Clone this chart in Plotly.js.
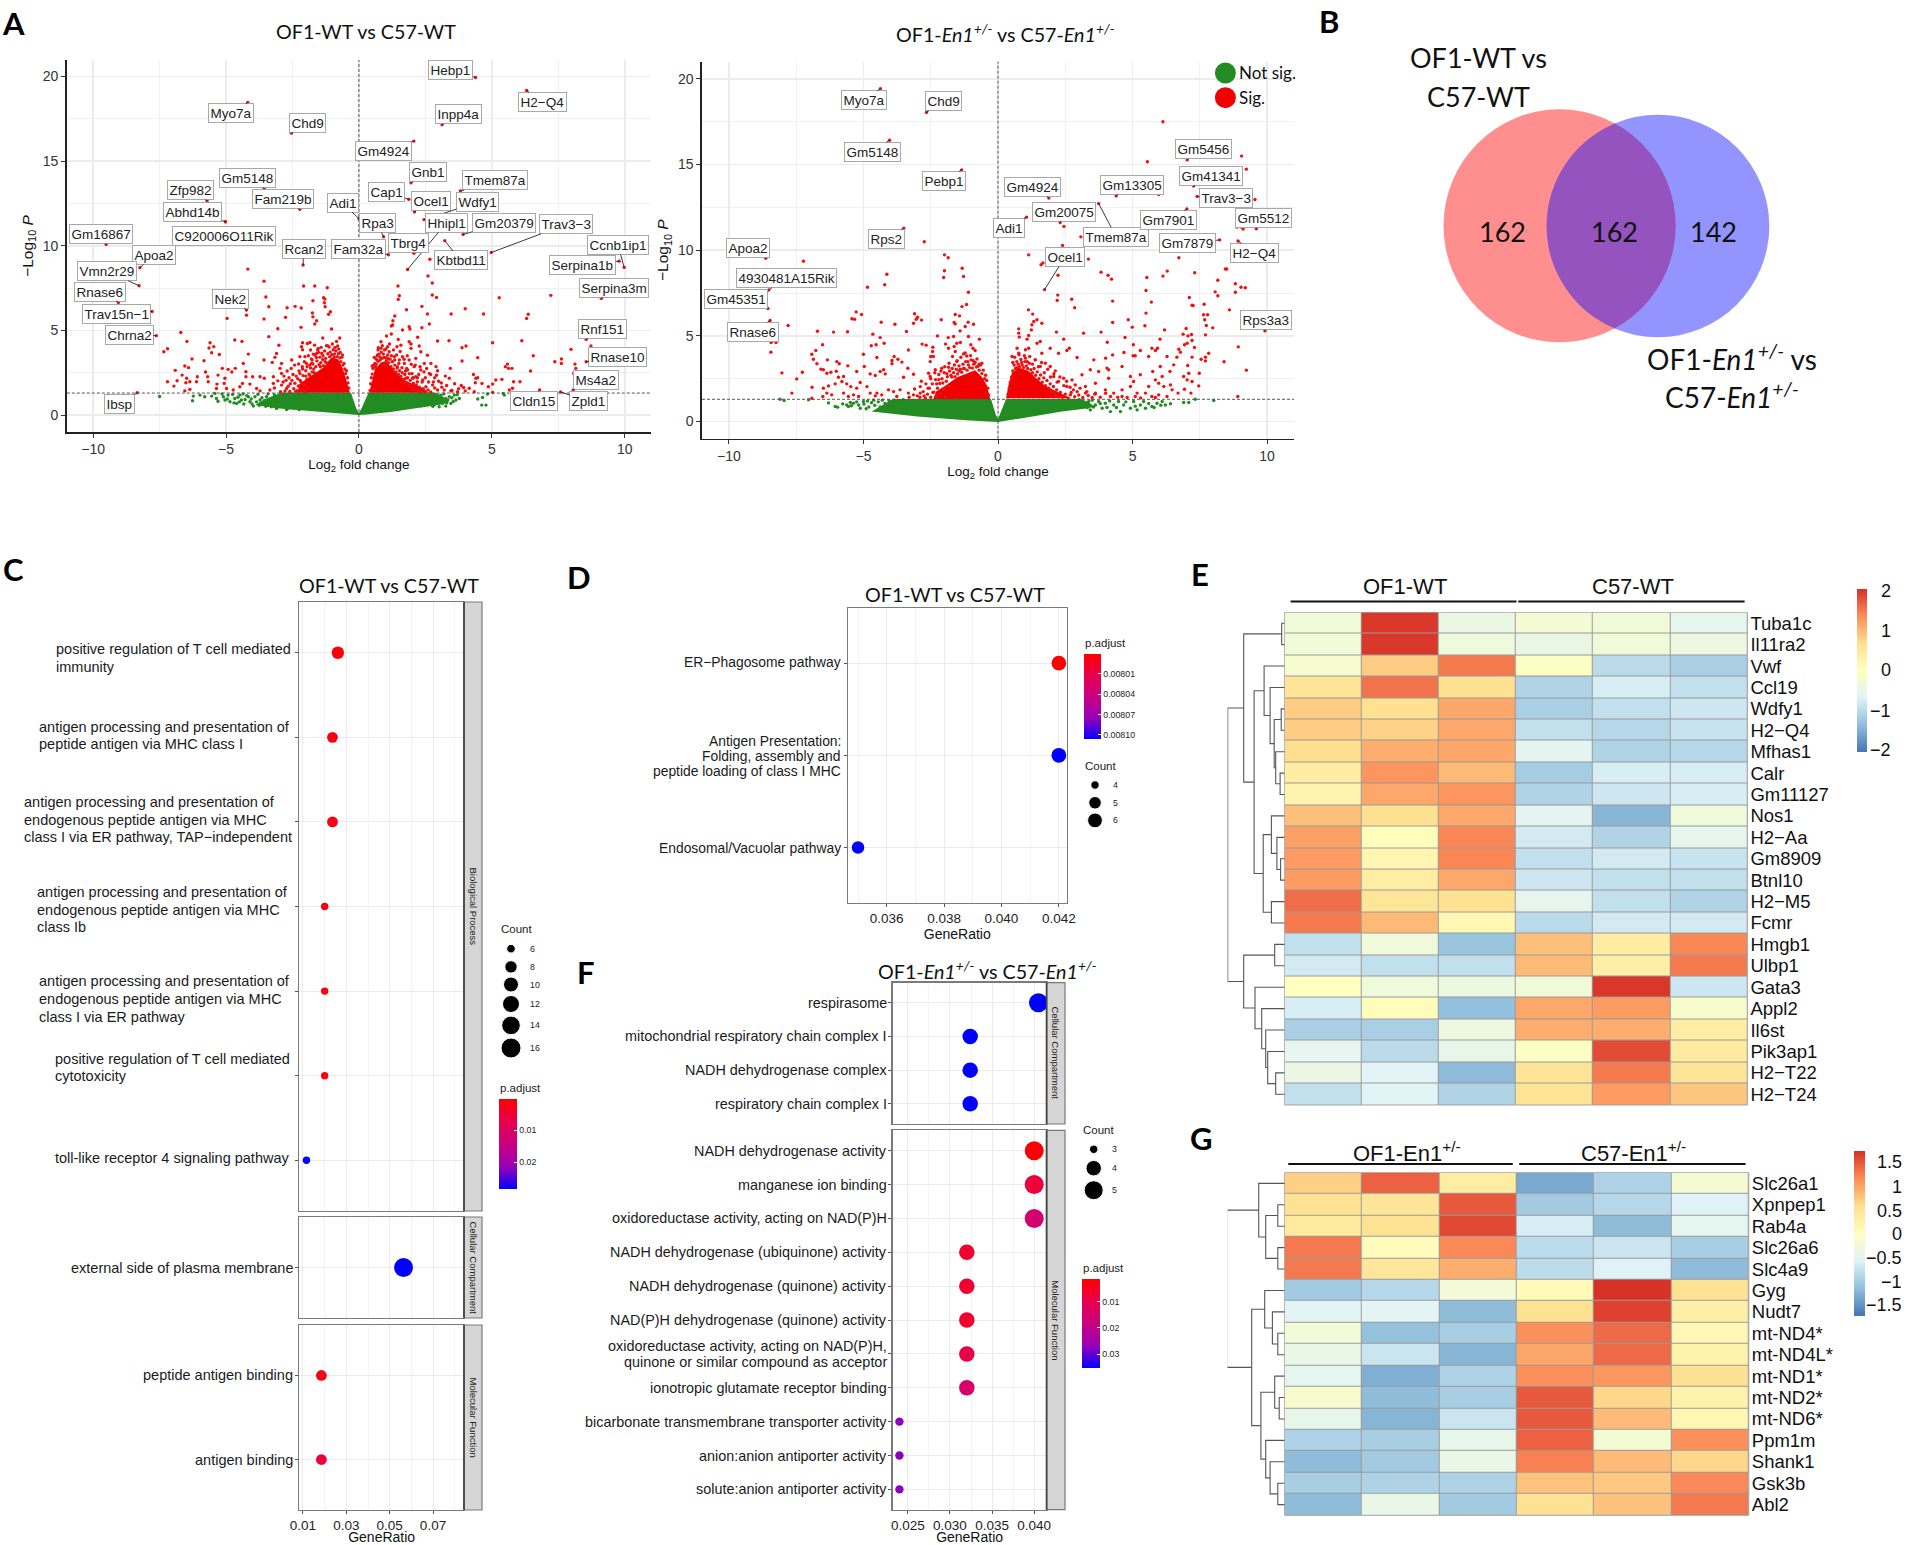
<!DOCTYPE html>
<html><head><meta charset="utf-8">
<script src="https://cdn.plot.ly/plotly-3.0.1.min.js"></script>
<style>html,body{margin:0;padding:0;background:#fff}</style></head>
<body><div id="chart" style="width:1907px;height:1545px"></div>
<script>
/* ===== DATA ===== */
// Panel A, left volcano: labelled genes
const genesA=['Hebp1','H2−Q4','Myo7a','Inpp4a','Chd9','Gm4924','Gnb1','Gm5148','Tmem87a','Cap1','Zfp982','Ocel1','Fam219b','Wdfy1','Adi1','Abhd14b','Rpa3','Kbtbd11','Hhipl1','Tbrg4','Gm20379','Trav3−3','Fam32a','Gm16867','C920006O11Rik','Apoa2','Vmn2r29','Rcan2','Ccnb1ip1','Serpina1b','Serpina3m','Rnase6','Trav15n−1','Nek2','Chrna2','Rnf151','Rnase10','Ms4a2','Zpld1','Cldn15','Ibsp'];
const genesAx=[4.39,6.31,-4.18,3.13,-2.54,2.07,1.96,-3.56,3.82,1.88,-5.71,2.09,-2.22,2.45,0,-5.02,0.93,3.23,1.83,2.07,3.92,4.98,1.11,-9.51,-5.02,-8.24,-8.27,-2.1,9.98,9.79,9.12,-9.05,-7.78,-4.23,-7.62,8.55,8.55,8.06,7.59,6.8,-8.34];
const genesAy=[19.94,19.17,18.46,17.15,16.65,16.18,13.72,13.37,13.23,12.74,12.64,12,12.15,11.54,11.6,11.42,10.53,10.3,8.6,9.55,10.67,9.6,9.47,10.08,11.42,8.7,7.64,8.86,8.72,9.09,6.89,6.65,6.12,6.2,4.69,4.47,3.15,1.48,1.36,1.48,1.32];
const sigA=[[-4.18,8.62],[-3.57,7.91],[-2.08,7.62],[-1.66,7.62],[-1.19,7.52],[-1.33,6.93],[-1.28,6.85],[-1.3,6.63],[-1.27,6.4],[-3.5,6.97],[-3.39,6.4],[-2.7,6.34],[-2.4,6.42],[-2.17,6.32],[-1.73,6.75],[-1.07,6.1],[-1.14,5.95],[-1.75,6.03],[-1.73,5.8],[-1.59,5.57],[-1.66,5.38],[-4.23,5.9],[-4.96,5.71],[-3.57,5.67],[-2.76,5.77],[-2.18,5.18],[-3.05,5.1],[-1.03,5.08],[-3.39,4.63],[-6.7,4.88],[-4.67,4.43],[-4.4,4.35],[-6.47,4.35],[-7.2,3.92],[-7.34,3.74],[-5.6,4.27],[-5.46,4.04],[-5.64,3.96],[-5.54,3.68],[-5.25,3.58],[-1.36,4.55],[-0.72,4.55],[-0.84,4.35],[-0.8,4.08],[-1.18,4.1],[-1.84,4.29],[-1.94,4.23],[-2.12,4.27],[-2.16,4.04],[-2.12,3.86],[-1.67,4.13],[-1.53,3.94],[-1.82,3.84],[-1.59,3.64],[-3.01,4.12],[-4.16,3.6],[-3.1,3.64],[-3.16,3.41],[-6.28,3.31],[-5.83,3.21],[-6.55,2.9],[-6.41,2.8],[-6.91,2.64],[-4.35,3.05],[-3.57,3.25],[-3.26,3.11],[-2.91,3.05],[-2.97,2.76],[-2.53,3.25],[-2.22,3.45],[-2.03,3.45],[-1.76,3.25],[-5.14,2.76],[-4.92,2.7],[-4.78,2.54],[-4.65,2.76],[-4.25,2.56],[-5.77,2.54],[-5.69,2.26],[-6.65,2.36],[-6.48,2.17],[-6.36,1.97],[-6.51,1.91],[-6.08,2.26],[-6.11,1.97],[-7.2,1.97],[-6.84,2.03],[-6.96,1.71],[-5.67,1.97],[-5.3,2.36],[-5.34,1.83],[-5.04,2.17],[-5.07,1.87],[-4.98,1.57],[-4.25,2.26],[-4,2.26],[-3.72,2.26],[-3.56,2.17],[-3.22,2.26],[-2.91,2.46],[-4.38,1.87],[-4.48,1.67],[-4.1,1.83],[-3.85,1.57],[-3.72,1.43],[-3.22,1.87],[-2.91,1.77],[-2.72,1.57],[-6.55,1.43],[-6.36,1.52],[-5.36,1.57],[-4.73,1.48],[-3.35,1.48],
[2.67,9.2],[2.6,8.21],[2.76,7.8],[1.47,7.62],[1.52,7.05],[1.48,6.83],[2.76,7.09],[2.92,6.95],[5.28,6.93],[7.22,7.07],[2.37,6.42],[1.79,6.22],[4,6.28],[3.47,5.97],[4.69,5.97],[2.58,5.97],[1.35,5.85],[1.28,5.57],[1.27,5.32],[1.22,5.26],[1.89,5.22],[1.92,5.08],[1.64,5.02],[2.37,5.16],[2.65,5.38],[6.37,5.95],[6.31,5.71],[1.22,4.79],[1.04,4.67],[1.48,4.47],[2.21,4.6],[1.89,4.33],[1.96,4.2],[2.96,4.37],[3.39,4.39],[5.03,4.27],[6.13,4.39],[4.03,4.08],[3.88,3.98],[0.83,4.33],[0.73,3.98],[1.43,4.04],[1.58,4.13],[1.96,3.94],[2.27,4.08],[2.33,3.74],[2.58,3.54],[2.71,3.05],[2.9,2.86],[4.47,3.39],[3.88,3.19],[6.56,3.5],[5.59,3.01],[5.51,2.86],[5.63,2.76],[5.76,2.76],[7.37,3.15],[7.62,3.31],[7.62,3.05],[7.98,3.88],[8.13,3.01],[8.16,2.76],[8.08,2.46],[8.73,4.08],[6.46,2.6],[2.96,2.62],[3.44,2.76],[3.4,2.17],[4.31,2.4],[4.4,2.17],[4.47,2.2],[4.38,1.91],[5.38,2.11],[5.15,2.07],[5.03,1.83],[4.87,1.67],[4.63,1.87],[5.82,1.97],[6.06,1.97],[5.78,1.58],[5.66,1.48],[3.94,1.63],[4.15,1.58],[4.34,1.38],[5.03,1.34],[2.96,1.48],[3.21,1.48],[3.46,1.42],[3.71,1.38],[2.4,2.07],[2.65,2.46],[2.33,2.66],[2.08,2.86],[1.83,2.66],[1.71,3.05],[1.64,3.45],[2.14,3.35],[2.46,3.05],[2.77,1.77],[2.52,1.67],[0.7,3.55],[0.83,3.94],[1.08,4.04],[1.14,3.74],[1.33,3.45],[1.52,3.25],[1.45,2.86],[1.77,2.17],[2.2,1.97],[2.02,2.17],[1.89,3.25],[2.14,2.26],
[-2.78,1.42],[-2.66,1.7],[-2.6,1.39],[-2.52,2.05],[-2.45,1.55],[-2.41,1.88],[-2.36,2.3],[-2.33,1.44],[-2.28,1.72],[-2.25,2.6],[-2.21,2.05],[-2.16,1.5],[-2.13,2.85],[-2.1,2.33],[-2.06,1.8],[-2.03,1.38],[-2,2.62],[-1.97,3.05],[-1.95,2.12],[-1.92,1.6],[-1.88,2.42],[-1.85,2.95],[-1.82,2.78],[-1.79,3.32],[-1.76,2.55],[-1.73,3.02],[-1.7,2.72],[-1.66,3.55],[-1.62,2.86],[-1.58,3.2],[-1.55,3.85],[-1.5,2.98],[-1.47,3.42],[-1.43,3.1],[-1.4,3.65],[-1.36,3.28],[-1.33,2.92],[-1.29,3.78],[-1.25,3.35],[-1.21,3.08],[-1.17,3.62],[-1.12,4.02],[-1.08,3.72],[-1.02,3.56],[-0.97,3.86],[-0.92,3.6],[-0.87,3.78],[-0.82,3.45],[-0.77,3.62],[-0.72,3.38],[-0.68,3.15],[-0.64,3.42],[-0.6,2.95],[-0.56,3.05],[-0.53,2.72],[-0.5,2.45],[-0.47,2.62],[-0.43,2.2],[-0.41,1.9],[-0.38,1.6],
[-3.18,1.6],[-3.05,2.02],[-2.95,1.38],[-2.85,1.95],[-2.82,2.3],[-2.74,2.05],[-2.7,2.6],[-2.63,2.2],[-2.58,1.85],[-2.55,2.75],[-2.48,2.4],[-2.42,2.95],[-2.38,1.4],[-2.3,2.15],[-2.27,3.02],[-2.22,2.45],[-2.18,1.95],[-2.12,2.72],[-2.05,3.15],[-2,2.3],[-1.95,2.85],[-1.9,3.5],[-1.85,2.35],[-1.78,3.05],[-1.72,3.6],[-1.68,2.5],[-1.6,3.4],[-1.52,3.7],[-1.45,2.85],[-1.42,4],[-1.35,3.5],[-1.27,3.15],[-1.22,4.1],[-1.1,3.45],[-1,4.2],[-0.93,3.42],[-0.9,4],[-0.76,3.9],[-0.7,3.7],[-0.62,3.55],
[0.42,1.45],[0.44,1.85],[0.47,2.2],[0.5,2.42],[0.53,2.75],[0.56,2.95],[0.6,3.05],[0.63,2.82],[0.66,3.3],[0.69,3.5],[0.72,3.18],[0.76,3.6],[0.8,3.42],[0.84,3.72],[0.88,3.35],[0.92,3.6],[0.96,3.85],[1,3.4],[1.04,3.22],[1.08,3.55],[1.12,3.1],[1.17,3.3],[1.21,2.85],[1.26,3.15],[1.3,2.72],[1.35,2.95],[1.4,2.55],[1.44,2.78],[1.49,2.4],[1.53,2.62],[1.58,2.28],[1.63,2.5],[1.68,2.12],[1.73,2.4],[1.78,1.92],[1.83,2.2],[1.88,1.78],[1.93,2.05],[1.98,1.62],[2.05,1.88],[2.1,1.5],[2.16,1.78],[2.22,1.42],[2.28,1.65],[2.34,1.38],[2.42,1.55],[2.5,1.4],[2.6,1.48],[2.7,1.36],[2.85,1.6],[1,2.95],[1.8,2.75],[2,2.45],[2.25,2.4],[2.5,2.2],[2.62,1.95],[2.85,2.2],[3.1,1.9],[3.25,2.3],[3.6,1.85],[3.75,1.55],
[0.5,2.9],[0.58,3.4],[0.65,3],[0.72,3.85],[0.8,3.25],[0.88,4.1],[0.95,3.4],[1.02,3.9],[1.1,3.35],[1.15,4.2],[1.22,3.5],[1.3,3.85],[1.35,3.25],[1.42,3.55],[1.5,3.05],[1.55,3.75],[1.62,2.8],[1.7,3.3],[1.75,2.6],[1.82,3.5],[1.9,2.45],[1.97,3],[2.05,2.2],[2.12,2.95],[2.2,2.2],[2.3,2.85],[2.38,1.95],[2.45,2.55],[2.55,2.75],[2.7,2.4],[2.8,1.95],[2.92,2.35],[3,2],[3.12,1.65],[3.3,1.75],[3.5,1.45],[3.85,1.75],[4,1.42]];
const nsA=[[-7.5,1.1],[-6.23,1.12],[-6.26,0.85],[-5.98,1.18],[-5.8,1.08],[-5.54,1.12],[-5.42,1.28],[-5.36,0.98],[-5.1,1.08],[-5.04,0.89],[-4.92,1.18],[-4.85,0.79],[-4.67,0.98],[-4.6,0.69],[-4.48,1.18],[-4.42,0.89],[-4.33,0.65],[-4.16,1.08],[-4.1,0.79],[-3.97,0.53],[-3.91,1.08],[-3.72,0.89],[-3.6,0.65],[-3.47,1.08],[-3.37,0.79],[-3.29,0.49],[-3.16,0.98],[-3.1,0.39],[-2.91,0.69],[-2.72,0.33],[-2.97,1.18],
[2.77,1.08],[2.96,0.89],[3.09,1.18],[3.15,0.69],[3.27,0.98],[3.4,1.08],[3.46,0.69],[3.59,1.18],[3.65,0.89],[3.78,0.98],[2.83,0.59],[3.02,0.49],[2.71,0.79],[3.27,0.53],[4.47,0.95],[4.65,1.04],[4.84,1.24],[4.62,0.59],[4.78,0.59],[5.43,1.28],[5.47,1.18],
[-5.3,0.82],[-5.15,1.25],[-4.95,0.95],[-4.75,1.22],[-4.7,0.72],[-4.55,1.05],[-4.5,0.78],[-4.36,1.25],[-4.28,0.92],[-4.22,1.15],[-4.05,0.95],[-4.02,0.66],[-3.85,0.78],[-3.8,1.22],[-3.75,0.58],[-3.65,1.02],[-3.55,0.86],[-3.5,0.52],[-3.42,1.25],[-3.3,0.95],[-3.22,0.66],[-3.18,1.2],[-3.05,0.82],[-3,0.52],[-2.92,1.05],[-2.85,0.62],[-2.8,1.25],[-2.78,0.86],[-2.7,1.1],[-2.65,0.42],[-2.6,0.72],[-2.55,1.25],[-2.5,0.95],[-2.45,0.42],[-2.42,1.12],[-2.4,0.66],[-2.35,0.84],[-2.3,1.25],[-2.25,0.32],[-2.2,1.02],
[2,1.25],[2.1,0.6],[2.18,1.02],[2.25,0.82],[2.3,1.25],[2.35,0.55],[2.42,1.1],[2.48,0.9],[2.55,1.25],[2.6,0.68],[2.66,1.05],[2.72,1.25],[2.78,0.52],[2.85,0.92],[2.9,1.2],[2.98,0.7],[3.03,1.1],[3.12,0.85],[3.2,1.25],[3.3,0.72],[3.35,0.9],[3.5,1.02],[3.55,0.8],[3.7,1.2]];
// dense core of the volcano, read as outlines
const coreSigA=[[[-2.3,1.32],[-2.25,1.8],[-2,2.1],[-1.8,2.3],[-1.55,2.6],[-1.3,2.85],[-1.15,3.2],[-1.03,3.4],[-0.78,3.3],[-0.62,2.8],[-0.46,2],[-0.34,1.32]],[[0.39,1.32],[0.48,2],[0.6,2.7],[0.83,3.1],[1.02,3.2],[1.25,2.75],[1.5,2.35],[1.8,2],[2.1,1.8],[2.4,1.6],[2.6,1.32]]];
const coreNsA=[[-2.9,1.32],[-3.3,1.1],[-3.7,0.8],[-3.9,0.6],[-3.1,0.4],[-2,0.27],[-1,0.14],[-0.2,0.02],[0,0],[0.2,0.02],[1.2,0.18],[2.2,0.42],[3,0.6],[3.4,0.75],[3.2,1.05],[2.9,1.32],[0.36,1.32],[0.1,0.4],[0,0.1],[-0.1,0.4],[-0.3,1.32]];

// Panel A, right volcano
const genesB=['Myo7a','Chd9','Gm5148','Pebp1','Gm4924','Adi1','Gm20075','Rps2','Gm13305','Tmem87a','Gm5456','Gm41341','Trav3−3','Gm7901','Gm5512','Gm7879','H2−Q4','Ocel1','Apoa2','4930481A15Rik','Gm45351','Rnase6','Rps3a3'];
const genesBx=[-4.37,-2.66,-4.03,-1.35,1.89,1.06,2.31,-3.5,4.39,3.74,7.03,7.27,7.4,7.02,9.6,8.24,8.92,1.73,-8.63,-8.52,-8.55,-8.47,9.92];
const genesBy=[19.42,18.04,16.42,14.69,13.05,11.93,11.61,11.28,13.17,12.72,15.27,13.75,13.13,12.41,11.25,10.6,10.54,7.7,9.53,7.68,6.6,5.9,5.29];
const sigB=[[-2.74,10.49],[-7.23,9.36],[-1.99,9.73],[-1.85,9.56],[-1.33,8.95],[-1.99,8.8],[-1.28,8.47],[-2.02,8.41],[-4.13,8.6],[-4.21,7.98],[-4.85,7.84],[-1.1,7.55],[-1.17,6.83],[-1.34,6.71],[-5.27,6.4],[-5.07,6.25],[-5.43,6],[-5.33,5.97],[-3.1,6.29],[-2.99,6.09],[-3.04,5.97],[-2.84,5.92],[-3.14,5.74],[-1.59,6.25],[-1.43,6.17],[-1.63,5.78],[-1.59,5.7],[-2.11,5.94],[-1.11,5.8],[-0.91,5.68],[-1.22,5.55],[-1.41,5.29],[-7.8,5.61],[-6.71,5.27],[-6.11,5.22],[-5.59,5.24],[-4.34,5.8],[-3.83,5.68],[-3.4,5.26],[-4.65,5.1],[-4.38,4.9],[-4.53,4.48],[-4.71,4.42],[-4.23,4.57],[-2.25,5],[-1.85,4.9],[-1.65,4.96],[-1.1,4.96],[-0.69,4.81],[-1.95,4.52],[-1.84,4.28],[-1.53,4.57],[-1.4,4.61],[-1.63,4.38],[-1.01,4.48],[-0.93,4.28],[-0.85,4.15],[-1.28,3.95],[-1.59,4.09],[-1.69,3.8],[-1.53,3.5],[-1.16,3.83],[-2.82,4.52],[-2.67,4.46],[-2.42,4.34],[-2.43,4.09],[-2.5,3.8],[-3.33,4.18],[-2.4,3.8],[-2.52,3.5],[-8.43,4.61],[-8.25,4.61],[-8.44,4.05],[-6.52,4.48],[-6.77,4.15],[-6.92,3.93],[-6.86,3.64],[-6.73,3.37],[-6.34,3.6],[-5.99,3.5],[-5.9,3.37],[-5.58,3.25],[-5,3.93],[-4.5,3.74],[-4.97,3.21],[-3.86,3.8],[-3.94,3.56],[-3.94,3.37],[-3.72,3.64],[-3.57,3.47],[-3.35,3.11],[-3.51,2.59],[-3.14,2.76],[-8.03,2.84],[-7.27,2.88],[-7.48,2.49],[-6.91,2],[-7.66,1.66],[-6.92,1.36],[-6.58,3.06],[-6.49,3.02],[-6.36,2.82],[-6.21,2.88],[-6.01,2.94],[-6.3,2.08],[-6.05,2.2],[-6.49,1.95],[-6.36,1.66],[-6.51,1.46],[-6.18,1.56],[-5.93,2.59],[-5.74,2.63],[-5.8,2.34],[-5.62,2.2],[-5.25,2.92],[-5.47,2.04],[-5.25,1.95],[-5.74,1.66],[-5.56,1.46],[-5.37,1.56],[-5.18,1.46],[-5.12,2.28],[-4.75,2.78],[-4.56,2.69],[-4.38,2.92],[-4.25,3.02],[-4.19,2.78],[-4.87,2.04],[-4.75,1.66],[-4.5,1.66],[-4.56,1.5],[-4.32,1.56],[-4.07,1.85],[-3.88,1.75],[-3.64,1.85],[-3.76,1.46],[-3.33,1.66],[-3.14,1.56],[-2.89,1.66],[-2.89,2.04],[-2.52,2.63],[-2.58,2.82],[-2.33,3.02],[-2.09,3.11],[-1.84,3.17],
[6.13,17.5],[9.05,15.49],[5.55,15.16],[9.23,14.73],[7.83,14.79],[9,13.86],[5.97,13.25],[9.55,12.96],[8.88,11.35],[9.04,11.35],[9.11,11.23],[2.45,11.39],[3.08,10.78],[3.25,10.32],[5.43,10.34],[2.4,10.28],[1.14,9.73],[1.6,9.15],[1.67,9.25],[3.36,9.48],[6.72,9.56],[8.45,8.9],[8.5,8.9],[7.31,8.68],[6.29,8.78],[6.13,8.49],[5.53,8.41],[3.83,8.72],[4.09,8.54],[4.22,8.31],[2.23,8.54],[8.17,8.25],[8.82,8.04],[9.03,7.84],[9.19,7.81],[8.07,7.57],[8.17,7.34],[8.82,7.55],[5.5,7.65],[2.22,7.38],[2.2,7.07],[2.74,7.14],[2.85,6.64],[4.26,7.03],[5.7,6.97],[7.11,7.24],[7.21,6.79],[7.25,6.77],[7.66,6.85],[8.6,6.52],[1.13,6.52],[1.29,6.27],[1.45,5.94],[1.33,5.84],[1.26,5.65],[1.63,5.74],[1.24,5.35],[7.64,6.23],[7.79,6.23],[7.68,5.94],[7.74,5.61],[7.98,5.47],[7.71,5.06],[5.5,6.33],[4.26,5.78],[4.84,5.94],[4.99,5.51],[5.46,5.59],[6.19,5.35],[3.83,5.22],[3.18,5.16],[2.17,5.22],[0.77,5.41],[0.77,5.16],[0.79,4.93],[1.14,5.02],[1.08,4.81],[2.44,4.81],[6.99,5.43],[7.19,5.08],[6.88,5.1],[7.06,5],[7.21,4.73],[7.03,4.57],[6.93,4.48],[7.3,4.32],[4.72,4.91],[6.02,4.81],[4.06,4.63],[5.03,4.48],[5.29,4.15],[5.72,4.28],[5.93,4.28],[5.85,4.15],[6.72,4.22],[6.78,4.05],[8.93,4.36],[7.83,3.99],[7.71,3.76],[7.55,3.64],[7.71,3.54],[7.21,3.76],[6.65,3.76],[6.28,3.8],[5.6,3.8],[5.02,3.84],[5.1,3.84],[4.68,4.03],[4.26,3.89],[4,3.7],[3.56,3.6],[2.94,3.74],[2.65,4.28],[2.56,4.15],[2.25,3.99],[1.94,4.28],[1.57,4.67],[1.45,4.57],[1.63,3.99],[1.14,4.28],[1.02,4.19],[8.4,3.49],[9.23,3],[8.91,1.46],[7.05,3.27],[6.53,3.31],[7.09,2.82],[7.48,2.82],[6.9,2.63],[7.03,2.43],[7.21,2.34],[7.46,2.08],[6.93,1.89],[7.17,1.66],[5.29,2.73],[5.75,2.92],[6.03,3.21],[6.39,2.92],[6.1,2.63],[5.85,2.43],[5.97,2.24],[6.16,2.05],[6.41,2.14],[6.47,1.85],[6.69,1.66],[4.92,2.63],[5.04,2.34],[5.6,2.05],[5.48,1.66],[5.97,1.56],[4.61,1.85],[4.92,2.05],[5.17,1.66],[4.61,3.21],[4.05,3.12],[4.11,2.53],[4.11,3.02],[3.74,2.92],[3.43,3.02],[3.12,2.73],[3.62,2.24],[3.25,2.05],[2.75,2.43],[2.87,2.14],[2.56,2.05],[2.44,2.53],[2.25,2.34],[2.07,2.63],[4.3,1.66],[3.99,1.85],[3.62,1.66],[3.25,1.66],[2.94,1.75],[2.69,1.56],[4.18,1.46],[4.61,1.46],[5.1,1.46],[5.72,1.46],[6.28,1.46],[0.71,4.28],[0.52,3.8],[0.77,3.99],[1.02,3.7],[1.39,3.6],[1.76,3.41],[1.57,3.21],[1.94,3.21],[2.13,2.96],
[-2.9,1.42],[-2.78,1.75],[-2.7,1.38],[-2.62,1.6],[-2.55,1.95],[-2.5,1.42],[-2.44,2.2],[-2.38,1.72],[-2.32,2.45],[-2.3,1.48],[-2.25,1.95],[-2.2,2.75],[-2.16,2.22],[-2.12,1.65],[-2.08,2.5],[-2.03,1.9],[-2,2.85],[-1.96,1.45],[-1.92,2.35],[-1.88,2.62],[-1.82,2.05],[-1.8,2.95],[-1.75,2.7],[-1.7,3.1],[-1.65,2.85],[-1.6,2.62],[-1.55,3.05],[-1.5,2.78],[-1.45,3.25],[-1.4,3.05],[-1.35,2.88],[-1.3,3.35],[-1.25,3.1],[-1.2,3.5],[-1.15,3],[-1.1,3.3],[-1.05,3.15],[-1,3.6],[-0.95,3.12],[-0.9,3.35],[-0.85,3.45],[-0.8,3.18],[-0.75,3.22],[-0.7,3],[-0.65,3.3],[-0.6,2.8],[-0.55,3],[-0.5,2.5],[-0.46,2.7],[-0.42,2.4],[-0.38,1.95],[-0.35,1.55],
[-3.3,1.42],[-3.1,1.9],[-3,1.5],[-2.85,2.35],[-2.75,1.5],[-2.68,2.2],[-2.6,1.95],[-2.5,2.5],[-2.42,1.7],[-2.35,2.85],[-2.28,2.2],[-2.2,2.45],[-2.12,2.95],[-2.05,2.25],[-1.98,3.2],[-1.9,2.8],[-1.82,3.4],[-1.72,2.6],[-1.62,3.3],[-1.52,3.55],[-1.45,2.95],[-1.38,3.75],[-1.28,3.1],[-1.22,4],[-1.12,3.5],[-1.02,3.85],[-0.92,3.55],[-0.78,3.65],[-0.7,3.35],[-0.6,3.4],
[0.38,1.6],[0.42,1.95],[0.46,2.3],[0.5,2.6],[0.55,2.95],[0.6,3.3],[0.65,3.1],[0.7,3.5],[0.75,3.35],[0.8,3.2],[0.85,3.62],[0.9,3.3],[0.95,3.15],[1,3.5],[1.05,3.25],[1.1,3.1],[1.16,3.4],[1.22,3.02],[1.28,2.85],[1.34,3.1],[1.4,2.7],[1.46,2.9],[1.52,2.5],[1.58,2.72],[1.64,2.3],[1.7,2.55],[1.76,2.1],[1.82,2.4],[1.88,1.95],[1.94,2.2],[2,1.75],[2.06,2.05],[2.12,1.55],[2.18,1.85],[2.25,1.45],[2.32,1.7],[2.4,1.42],[2.5,1.6],[2.6,1.38],[2.72,1.7],[2.85,1.45],[3,1.55],[3.15,1.4],[3.35,1.52],[3.5,1.4],[3.8,1.42],[4.45,1.42],[4.8,1.4],[5.3,1.38],[5.85,1.4],
[0.55,3.45],[0.62,3.75],[0.7,3.15],[0.78,3.9],[0.88,3.45],[0.98,3.85],[1.08,3.5],[1.18,3.8],[1.28,3.35],[1.38,3.6],[1.5,3.2],[1.62,3.45],[1.72,2.85],[1.85,3.05],[1.95,2.6],[2.08,2.8],[2.2,2.3],[2.3,2.6],[2.45,2.1],[2.55,2.35],[2.68,2],[2.8,1.85],[3.05,1.95],[3.3,1.75],[3.6,1.6],[4,1.65]];
const nsB=[[-8.1,1.3],[-7.95,1.23],[-7.04,1.27],[-6.3,1.09],[-6.05,0.88],[-5.96,0.84],[-5.77,1.03],[-5.62,0.97],[-5.49,1.11],[-5.56,0.88],[-5.37,1.07],[-5.18,0.97],[-5.12,0.78],[-5,1.17],[3.18,0.97],[3.37,1.17],[3.43,0.68],[3.62,0.97],[3.74,1.17],[3.87,0.78],[3.99,1.07],[4.18,0.58],[4.3,0.97],[4.48,1.17],[4.55,0.58],[4.67,0.97],[4.92,0.78],[5.04,1.17],[5.17,0.68],[5.29,0.97],[5.41,1.17],[5.48,0.78],[5.72,0.88],[5.91,1.07],[6.1,1.17],[6.22,0.97],[6.41,1.04],[6.9,1.11],[7.09,1.11],[7.33,1.3],[8.02,1.23],
[-4.85,1.2],[-4.8,0.85],[-4.7,1.1],[-4.62,1.25],[-4.58,0.95],[-4.45,1.15],[-4.38,0.85],[-4.3,1.25],[-4.2,1.05],[-4.12,0.88],[-4.05,1.22],[-3.95,1.12],[-3.85,1.25],[-3.78,1.08],[-3.7,1.22],[-3.6,1.18],[-3.52,1.28],[-3.45,1.12],[-4.9,0.75],[-4.98,1.02],[-5.25,1.15],[-5.45,0.92],
[2.7,1.25],[2.9,1.05],[3.02,1.28],[3.1,0.9],[3.25,1.1],[3.32,0.82],[3.5,1.25],[3.55,0.85],[3.8,1.05],[4.05,0.82],[4.15,1.2],[4.4,0.82],[4.75,1.15],[5.1,0.9],[5.6,1.05],[5.8,0.82],[6.05,0.95]];
const coreSigB=[[[-2.4,1.32],[-2.3,1.75],[-2,2.05],[-1.78,2.3],[-1.5,2.6],[-1.16,2.8],[-0.85,3],[-0.6,2.6],[-0.41,2.1],[-0.29,1.32]],[[0.3,1.36],[0.4,2.2],[0.52,2.85],[0.77,3.15],[1.14,2.95],[1.4,2.55],[1.7,2.15],[2.05,1.85],[2.4,1.6],[2.7,1.36]]];
const coreNsB=[[-3.9,1.32],[-4.2,1.05],[-4.5,0.8],[-4.7,0.58],[-3,0.3],[-1.2,0.07],[0,-0.03],[1.14,0.28],[2.38,0.58],[3.2,0.75],[3.6,0.85],[3.4,1.1],[3.1,1.32],[0.3,1.32],[0.08,0.4],[0,0.15],[-0.08,0.4],[-0.26,1.32]];

// Panel B
const vennTitleL=['OF1-WT vs','C57-WT'];
const vennTitleR=['OF1-<i>En1<sup>+/-</sup></i> vs','C57-<i>En1<sup>+/-</sup></i>'];
const vennCounts=[162,162,142];

// Panel C
const termsC=[['positive regulation of T cell mediated','immunity'],['antigen processing and presentation of','peptide antigen via MHC class I'],['antigen processing and presentation of','endogenous peptide antigen via MHC','class I via ER pathway, TAP−independent'],['antigen processing and presentation of','endogenous peptide antigen via MHC','class Ib'],['antigen processing and presentation of','endogenous peptide antigen via MHC','class I via ER pathway'],['positive regulation of T cell mediated','cytotoxicity'],['toll-like receptor 4 signaling pathway']];
const ratioC=[0.0261,0.0236,0.0236,0.02,0.02,0.02,0.0116];
const countC=[8,7,7,5,5,5,5];
const padjC=[0.0012,0.002,0.002,0.0015,0.0015,0.0015,0.0282];
const termsCc=['external side of plasma membrane'];
const ratioCc=[0.0564];const countCc=[15];const padjCc=[0.0282];
const termsCm=['peptide antigen binding','antigen binding'];
const ratioCm=[0.0185,0.0185];const countCm=[7,7];const padjCm=[0.002,0.0055];
const legCount=[6,8,10,12,14,16];

// Panel D
const termsD=[['ER−Phagosome pathway'],['Antigen Presentation:','Folding, assembly and','peptide loading of class I MHC'],['Endosomal/Vacuolar pathway']];
const ratioD=[0.042,0.042,0.035];const countD=[6,6,5];const padjD=[0.00798,0.008106,0.008106];
const legCountD=[4,5,6];

// Panel F
const termsFc=['respirasome','mitochondrial respiratory chain complex I','NADH dehydrogenase complex','respiratory chain complex I'];
const ratioFc=[0.0405,0.0324,0.0324,0.0324];const countFc=[5,4,4,4];const padjFc=[0.0353,0.0353,0.0353,0.0353];
const termsFm=[['NADH dehydrogenase activity'],['manganese ion binding'],['oxidoreductase activity, acting on NAD(P)H'],['NADH dehydrogenase (ubiquinone) activity'],['NADH dehydrogenase (quinone) activity'],['NAD(P)H dehydrogenase (quinone) activity'],['oxidoreductase activity, acting on NAD(P)H,','quinone or similar compound as acceptor'],['ionotropic glutamate receptor binding'],['bicarbonate transmembrane transporter activity'],['anion:anion antiporter activity'],['solute:anion antiporter activity']];
const ratioFm=[0.04,0.04,0.04,0.032,0.032,0.032,0.032,0.032,0.024,0.024,0.024];
const countFm=[5,5,5,4,4,4,4,4,3,3,3];
const padjFm=[0.002,0.0075,0.0155,0.0065,0.0065,0.0065,0.0095,0.0145,0.0275,0.0275,0.0275];
const legCountF=[3,4,5];

// Panel E
const genesE=['Tuba1c','Il11ra2','Vwf','Ccl19','Wdfy1','H2−Q4','Mfhas1','Calr','Gm11127','Nos1','H2−Aa','Gm8909','Btnl10','H2−M5','Fcmr','Hmgb1','Ulbp1','Gata3','Appl2','Il6st','Pik3ap1','H2−T22','H2−T24'];
const zE=[[-0.3,2,-0.45,-0.25,-0.3,-0.55],[-0.3,2,-0.35,-0.45,-0.3,-0.4],[-0.2,0.85,1.5,-0.05,-1,-1.15],[0.6,1.55,0.65,-1.1,-0.75,-0.95],[0.85,0.65,1.15,-1.15,-0.95,-0.85],[0.85,0.8,1.15,-0.95,-1.05,-0.9],[0.7,1.1,1.15,-0.6,-1.1,-1.05],[0.4,1.3,1,-1.2,-0.75,-0.75],[0.25,1.15,1.3,-1.1,-0.85,-0.75],[0.95,0.65,1.15,-0.6,-1.45,-0.35],[1.2,0.05,1.4,-0.8,-1.1,-0.55],[1.25,0.2,1.4,-0.95,-0.8,-0.9],[1.25,0.4,1.15,-0.85,-0.95,-0.95],[1.6,0.55,0.65,-0.55,-0.95,-1.1],[1.5,1,0.15,-1,-0.8,-0.8],[-0.95,-0.3,-1.3,0.95,0.4,1.4],[-0.8,-0.95,-0.95,1,0.35,1.5],[0,-0.35,-0.4,-0.3,2,-0.85],[-0.75,0.05,-1.35,1.15,1.25,-0.15],[-1.15,-1.15,-0.4,1.1,1.1,0.4],[-0.55,-1,-0.5,-0.05,1.85,0.45],[-0.45,-0.65,-1.4,0.6,1.5,0.6],[-0.95,-0.65,-1.1,0.6,1.25,0.9]];
const treeE=[57,[41,[3,0,1],[30.6,[20.6,2,[14.6,3,[10.5,[3.5,4,5],[9,6,[4.6,7,8]]]]],[21.5,[13.3,9,[7.8,10,[4.1,11,12]]],[13.3,13,14]]]],[41,[10,15,16],[29.7,17,[23,18,[19,19,[17,20,[9,21,22]]]]]]];
const groupsE=['OF1-WT','C57-WT'];
const barTicksE=[2,1,0,-1,-2];

// Panel G
const genesG=['Slc26a1','Xpnpep1','Rab4a','Slc26a6','Slc4a9','Gyg','Nudt7','mt-ND4*','mt-ND4L*','mt-ND1*','mt-ND2*','mt-ND6*','Ppm1m','Shank1','Gsk3b','Abl2'];
const zG=[[0.7,1.45,0.35,-1.35,-0.95,-0.2],[0.55,0.5,1.5,-1.05,-0.9,-0.6],[0.4,0.55,1.6,-0.65,-1.2,-0.5],[1.3,0.05,1.2,-0.85,-0.75,-1],[1.3,0.45,0.95,-0.85,-0.6,-1.2],[-1.05,-0.9,-0.25,0.1,1.75,0.55],[-0.55,-0.55,-1.2,0.55,1.65,0.3],[-0.25,-1.15,-1,1.15,1.4,0.15],[-0.4,-0.75,-1.25,1,1.4,0.25],[-0.5,-1.3,-0.95,1.15,1.1,0.55],[-0.15,-1.2,-1,1.5,0.65,0.25],[-0.45,-1.25,-0.75,1.5,0.85,0.15],[-0.95,-1,-0.45,1.45,-0.2,1.15],[-1.2,-1.05,-0.4,1.25,0.85,0.65],[-1,-0.95,-0.95,0.8,0.75,1.2],[-1.2,-0.4,-1.05,0.55,0.8,1.3]];
const treeG=[58,[26,0,[19,[6.9,1,2],[6.9,3,4]]],[33,[20,5,[12.3,6,[6.9,7,8]]],[23.8,[10,9,[5.5,10,11]],[19,12,[14.6,13,[6.9,14,15]]]]]];
const groupsG=['OF1-En1<sup>+/-</sup>','C57-En1<sup>+/-</sup>'];
const barTicksG=['1.5','1','0.5','0','−0.5','−1','−1.5'];

/* ===== LAYOUT HELPERS ===== */
const W=1907,H=1545;
const SANS='"Liberation Sans",Arial,sans-serif', CAL='Lato,"Open Sans",sans-serif';
const dx=(a,b)=>[a/W,b/W], dy=(t,b)=>[1-b/H,1-t/H];
const traces=[],shapes=[],annos=[],layout={};
const range=n=>Array.from({length:n},(_,i)=>i);
function txt(x,y,text,size,o={}){annos.push({xref:'paper',yref:'paper',x:x/W,y:1-y/H,text,showarrow:false,
  font:{family:o.family||SANS,size,color:o.color||'#111',weight:o.weight},xanchor:o.xa||'center',yanchor:'middle',align:o.align||'center',textangle:o.angle||0,borderpad:0});}
function rect(x0,y0,x1,y1,fill,line,lw){shapes.push({type:'rect',xref:'paper',yref:'paper',x0:x0/W,x1:x1/W,y0:1-y0/H,y1:1-y1/H,fillcolor:fill,line:{color:line||fill,width:lw==null?1:lw}});}
function hline(x0,x1,y,c,w){shapes.push({type:'line',xref:'paper',yref:'paper',x0:x0/W,x1:x1/W,y0:1-y/H,y1:1-y/H,line:{color:c,width:w}});}
function linesAt(x,yc,lines,size,gap,xa){lines.forEach((l,i)=>txt(x,yc+(i-(lines.length-1)/2)*gap,l,size,{xa:xa||'right',color:'#1a1a1a'}));}

/* ---- overlay axes covering the page, for legend glyphs and the Venn ---- */
layout.xaxis3={domain:[0,1],range:[0,W],visible:false,fixedrange:true};
layout.yaxis3={domain:[0,1],range:[H,0],visible:false,fixedrange:true,anchor:'x3'};

/* ---- volcano ---- */
function volcano(id,box,xr,yr,core,coreNs,sig,ns,names,gx,gy,boxes,toPx,noArrow,title,titleBox){
  const xa='xaxis'+id, ya='yaxis'+id, xk='x'+id, yk='y'+id;
  layout[xa]={domain:dx(box[0],box[1]),range:xr,anchor:yk,tickmode:'linear',tick0:0,dtick:5,ticks:'outside',ticklen:4,tickcolor:'#333',
    showline:true,linecolor:'#222',linewidth:1.6,showgrid:true,gridcolor:'#ececec',gridwidth:1.8,zeroline:false,
    minor:{tickmode:'linear',tick0:0,dtick:2.5,showgrid:true,gridcolor:'#f1f1f1',gridwidth:1,ticks:''},
    tickfont:{family:SANS,size:14,color:'#333'},
    title:{text:'Log<sub>2</sub> fold change',font:{family:SANS,size:13.5,color:'#111'},standoff:3}};
  layout[ya]={domain:dy(box[2],box[3]),range:yr,anchor:xk,tickmode:'linear',tick0:0,dtick:5,ticks:'outside',ticklen:4,tickcolor:'#333',
    showline:true,linecolor:'#222',linewidth:1.6,showgrid:true,gridcolor:'#ececec',gridwidth:1.8,zeroline:false,
    minor:{tickmode:'linear',tick0:0,dtick:2.5,showgrid:true,gridcolor:'#f1f1f1',gridwidth:1,ticks:''},
    tickfont:{family:SANS,size:14,color:'#333'},
    title:{text:'−Log<sub>10</sub> <i>P</i>',font:{family:SANS,size:15.5,color:'#111'},standoff:5}};
  traces.push({type:'scatter',mode:'lines',x:coreNs.map(p=>p[0]),y:coreNs.map(p=>p[1]),xaxis:xk,yaxis:yk,fill:'toself',fillcolor:'#228B22',line:{width:0,color:'#228B22'},hoverinfo:'skip',showlegend:false});
  traces.push({type:'scatter',mode:'markers',x:ns.map(p=>p[0]),y:ns.map(p=>p[1]),xaxis:xk,yaxis:yk,marker:{color:'#228B22',size:3.4},name:'Not sig.',showlegend:false});
  core.forEach(c=>traces.push({type:'scatter',mode:'lines',x:c.map(p=>p[0]),y:c.map(p=>p[1]),xaxis:xk,yaxis:yk,fill:'toself',fillcolor:'#F20000',line:{width:0,color:'#F20000'},hoverinfo:'skip',showlegend:false}));
  traces.push({type:'scatter',mode:'markers',x:sig.map(p=>p[0]).concat(gx),y:sig.map(p=>p[1]).concat(gy),xaxis:xk,yaxis:yk,marker:{color:'#EE1111',size:3.4},name:'Sig.',showlegend:false});
  shapes.push({type:'line',xref:xk,yref:yk+' domain',x0:0,x1:0,y0:0,y1:1,line:{color:'#555',width:1,dash:'3px,2px'}});
  shapes.push({type:'line',xref:xk+' domain',yref:yk,x0:0,x1:1,y0:1.3,y1:1.3,line:{color:'#555',width:1,dash:'3px,2px'}});
  names.forEach((n,i)=>{
    const pxX=box[0]+(gx[i]-xr[0])/(xr[1]-xr[0])*(box[1]-box[0]);
    const pxY=box[3]-(gy[i]-yr[0])/(yr[1]-yr[0])*(box[3]-box[2]);
    const b=toPx(boxes[i]);
    const hide=noArrow.includes(n);
    annos.push({xref:xk,yref:yk,x:gx[i],y:gy[i],text:n,showarrow:true,arrowhead:0,arrowwidth:0.9,arrowcolor:hide?'rgba(0,0,0,0)':'#222',standoff:0,startstandoff:0,
      ax:b[0]-pxX,ay:b[1]-pxY,font:{family:SANS,size:13.5,color:'#222'},bgcolor:'#fff',bordercolor:'#a8a8a8',borderwidth:1,borderpad:1.5});
  });
  txt(titleBox[0],titleBox[1],title,19.7,{family:CAL,color:'#111'});
}
const boxesA=[[1040,209],[1252,305],[533,340],[1058,343],[710,368],[884,454],[986,516],[571,535],[1141,541],[892,577],[439,571],[995,604],[652,597],[1101,607],[790,608],[445,636],[870,669],[1062,781],[1029,669],[943,730],[1162,669],[1306,673],[826,746],[234,701],[516,708],[355,765],[247,814],[700,747],[1425,735],[1344,794],[1416,863],[231,875],[268,943],[531,897],[298,1004],[1390,987],[1425,1072],[1375,1139],[1358,1204],[1231,1203],[276,1212]];
volcano('',[66.8,651,60,432],[-10.99,10.99],[-1.0,20.97],coreSigA,coreNsA,sigA,nsA,genesA,genesAx,genesAy,boxesA,b=>[b[0]/2.306,b[1]/3],['C920006O11Rik'],'OF1-WT vs C57-WT',[366.4,32]);
const boxesB=[[516,301],[700,304],[536,455],[702,543],[905,562],[851,685],[977,635],[569,718],[1135,555],[1098,710],[1300,448],[1316,527],[1351,593],[1219,660],[1437,655],[1263,730],[1417,758],[980,771],[250,745],[337,835],[221,897],[261,995],[1443,961]];
volcano('2',[702,1294,61.7,438.7],[-11,11],[-1,21],coreSigB,coreNsB,sigB,nsB,genesB,genesBx,genesBy,boxesB,b=>[640+b[0]/2.306,b[1]/3],[],'OF1-<i>En1<sup>+/-</sup></i> vs C57-<i>En1<sup>+/-</sup></i>',[1005.6,33]);
// volcano legend
traces.push({type:'scatter',mode:'markers',xaxis:'x3',yaxis:'y3',x:[1225.4,1225.4],y:[73,97.7],marker:{size:21,color:['#228B22','#F20000']},hoverinfo:'skip',showlegend:false});
txt(1238.4,73,'Not sig.',17,{family:CAL,xa:'left'});txt(1238.4,97.7,'Sig.',17,{family:CAL,xa:'left'});

/* ---- Venn ---- */
shapes.push({type:'circle',xref:'x3',yref:'y3',x0:1443.5,x1:1675.7,y0:109.3,y1:342.3,fillcolor:'rgba(255,0,0,0.44)',line:{width:0}});
shapes.push({type:'circle',xref:'x3',yref:'y3',x0:1546.5,x1:1769.3,y0:114.7,y1:337.3,fillcolor:'rgba(0,0,255,0.42)',line:{width:0}});
txt(1478.4,57.7,vennTitleL[0],27,{family:CAL});txt(1478.4,96,vennTitleL[1],27,{family:CAL});
txt(1731.8,357,vennTitleR[0],28,{family:CAL});txt(1731.8,395.7,vennTitleR[1],28,{family:CAL});
txt(1502.3,231.7,String(vennCounts[0]),27,{family:CAL});
txt(1614.6,231.7,String(vennCounts[1]),27,{family:CAL});
txt(1713.9,231.7,String(vennCounts[2]),27,{family:CAL});

/* ---- dot plots ---- */
const CS=[[0,'#0000FF'],[0.25,'#9A00B8'],[0.5,'#C9007F'],[0.75,'#E7004E'],[1,'#FF0000']];
const GRID='#ebebeb',MINOR='#f4f4f4',BORDER='#7a7a7a';
function interp(tab,c){const k=Object.keys(tab).map(Number).sort((a,b)=>a-b);if(tab[c])return tab[c];for(let i=0;i<k.length-1;i++){if(c>k[i]&&c<k[i+1])return tab[k[i]]+(tab[k[i+1]]-tab[k[i]])*(c-k[i])/(k[i+1]-k[i]);}return tab[k[0]];}
function dotPanel(id,box,xr,tick0,dtick,minorD,fmt,yr,n,ratios,counts,padj,sizeTab,cr,showX,cbar,xTitle){
  const xk='x'+id,yk='y'+id;
  layout['xaxis'+id]={domain:dx(box[0],box[1]),range:xr,anchor:yk,tickmode:'linear',tick0,dtick,tickformat:fmt,
    showticklabels:showX,ticks:showX?'outside':'',ticklen:3,tickcolor:'#555',tickfont:{family:SANS,size:13.5,color:'#222'},
    showline:true,mirror:true,linecolor:BORDER,linewidth:1.2,showgrid:true,gridcolor:GRID,gridwidth:1,zeroline:false,
    minor:{tickmode:'linear',tick0,dtick:minorD,showgrid:true,gridcolor:MINOR,gridwidth:1,ticks:''}};
  if(xTitle)layout['xaxis'+id].title={text:'GeneRatio',font:{family:SANS,size:14,color:'#111'},standoff:3};
  layout['yaxis'+id]={domain:dy(box[2],box[3]),range:yr,anchor:xk,tickmode:'array',tickvals:range(n),showticklabels:false,
    ticks:'outside',ticklen:3,tickcolor:'#555',
    showline:true,mirror:true,linecolor:BORDER,linewidth:1.2,showgrid:true,gridcolor:GRID,gridwidth:1,zeroline:false};
  const m={size:counts.map(c=>interp(sizeTab,c)),color:padj.map(p=>-p),cmin:-cr[1],cmax:-cr[0],colorscale:CS,showscale:!!cbar,opacity:1,line:{width:0}};
  if(cbar)m.colorbar=cbar;
  traces.push({type:'scatter',mode:'markers',x:ratios,y:range(n),xaxis:xk,yaxis:yk,marker:m,showlegend:false});
}
function pbar(x,top,bot,thick,ticks,labels){return {x:x/W,xanchor:'left',y:1-top/H,yanchor:'top',len:bot-top,lenmode:'pixels',thickness:thick,thicknessmode:'pixels',xpad:0,ypad:0,outlinewidth:0,
  tickmode:'array',tickvals:ticks.map(t=>-t),ticktext:labels,ticks:'inside',tickcolor:'#fff',ticklen:3,tickwidth:1,tickfont:{family:SANS,size:8.8,color:'#222'}};}
function strip(x0,x1,top,bot,label){rect(x0,top,x1,bot,'#d6d6d6',BORDER,1.2);shapes.push({type:'line',xref:'paper',yref:'paper',x0:x0/W,x1:x0/W,y0:1-top/H,y1:1-bot/H,line:{color:'#444',width:1.8}});
  txt((x0+x1)/2,(top+bot)/2,label,9.5,{angle:90,color:'#222'});}
function sizeLegend(xc,ys,sizes,labelX,counts,title,titleX,titleY){
  traces.push({type:'scatter',mode:'markers',xaxis:'x3',yaxis:'y3',x:ys.map(()=>xc),y:ys,marker:{size:sizes,color:'#000',opacity:1},hoverinfo:'skip',showlegend:false});
  counts.forEach((c,i)=>txt(labelX,ys[i],String(c),8.8,{xa:'left',color:'#222'}));
  txt(titleX,titleY,title,11.5,{xa:'left',color:'#222'});
}
// C
const sizeC={4:6,5:7.4,6:8.6,7:10.8,8:12.4,10:15,12:17,14:18.6,15:18.8,16:20};
const crC=[0.0003,0.0284];
dotPanel('4',[299.3,464,602,1211],[0.0083,0.0843],0.01,0.02,0.01,'.2f',[6.6,-0.6],7,ratioC,countC,padjC,sizeC,crC,false,pbar(499.3,1099,1189,17.7,[0.01,0.02],['0.01','0.02']));
dotPanel('5',[299.3,464,1217,1318],[0.0083,0.0843],0.01,0.02,0.01,'.2f',[0.6,-0.6],1,ratioCc,countCc,padjCc,sizeC,crC,false);
dotPanel('6',[299.3,464,1325,1510],[0.0083,0.0843],0.01,0.02,0.01,'.2f',[1.6,-0.6],2,ratioCm,countCm,padjCm,sizeC,crC,true,null,true);
const firstC=[649.3,726.7,802,892,981.4,1058.7,1158], leftC=[55,38.2,22.9,35.7,37.5,53.6,54.3];
termsC.forEach((t,i)=>t.forEach((l,j)=>txt(leftC[i],firstC[i]+j*17.6,l,14.5,{xa:'left',color:'#1a1a1a'})));
txt(293.6,1267.5,termsCc[0],14.5,{xa:'right',color:'#1a1a1a'});
txt(293.6,1375,termsCm[0],14.5,{xa:'right',color:'#1a1a1a'});txt(293.6,1460,termsCm[1],14.5,{xa:'right',color:'#1a1a1a'});
strip(464,482,602,1211,'Biological Process');strip(464,482,1217,1318,'Cellular Compartment');strip(464,482,1325,1510,'Molecular Function');
sizeLegend(511,[948.7,966.9,984.5,1004,1025.4,1048],legCount.map(c=>interp(sizeC,c)),529,legCount,'Count',500,928.5);
txt(499.3,1088,'p.adjust',11.5,{xa:'left',color:'#222'});
txt(389,586,'OF1-WT vs C57-WT',19.7,{family:CAL});
// D
const sizeD={4:8.4,5:12.5,6:14.8};
dotPanel('7',[847.7,1066.9,607.8,902.8],[0.03464,0.04228],0.036,0.002,0.001,'.3f',[2.6,-0.6],3,ratioD,countD,padjD,sizeD,[0.00798,0.008106],true,pbar(1083.8,653.7,739,16.8,[0.00801,0.00804,0.00807,0.0081],['0.00801','0.00804','0.00807','0.00810']),true);
[662.5,755.6,848].forEach((y,i)=>linesAt(842.4,y,termsD[i],13.85,15));
sizeLegend(1095,[785,802.8,820.4],legCountD.map(c=>interp(sizeD,c)),1112,legCountD,'Count',1083.8,766);
txt(1083.8,643,'p.adjust',11.5,{xa:'left',color:'#222'});
txt(955.4,594.6,'OF1-WT vs C57-WT',19.7,{family:CAL});
// F
const sizeF={3:8.4,4:15.5,5:19};
const crF=[0.0014,0.0353];
dotPanel('8',[892.6,1046.6,982.6,1124],[0.02319,0.04147],0.025,0.005,0.0025,'.3f',[3.6,-0.6],4,ratioFc,countFc,padjFc,sizeF,crF,false,pbar(1082,1279,1367.5,18,[0.01,0.02,0.03],['0.01','0.02','0.03']),false);
dotPanel('9',[892.6,1046.6,1130.4,1509.7],[0.02319,0.04147],0.025,0.005,0.0025,'.3f',[10.6,-0.6],11,ratioFm,countFm,padjFm,sizeF,crF,true,null,true);
termsFc.forEach((t,i)=>txt(887.6,982.6+(i+0.6)/4.2*141.4,t,14.4,{xa:'right',color:'#1a1a1a'}));
termsFm.forEach((t,i)=>linesAt(887.6,1130.4+(i+0.6)/11.2*379.3,t,14.4,15.7));
strip(1046.6,1065,982.6,1124,'Cellular Compartment');strip(1046.6,1065,1130.4,1509.7,'Molecular Function');
sizeLegend(1093.7,[1149.3,1168.2,1190.2],legCountF.map(c=>interp(sizeF,c)),1111,legCountF,'Count',1082,1130);
txt(1082,1267.5,'p.adjust',11.5,{xa:'left',color:'#222'});
txt(987,970,'OF1-<i>En1<sup>+/-</sup></i> vs C57-<i>En1<sup>+/-</sup></i>',19.7,{family:CAL});

/* ---- heatmaps ---- */
const RDYLBU=[[0,'#4575B4'],[1/6,'#91BFDB'],[2/6,'#E0F3F8'],[3/6,'#FFFFBF'],[4/6,'#FEE090'],[5/6,'#FC8D59'],[1,'#D73027']];
function treeSegs(node,xs,ys){ if(typeof node==='number')return {y:node,h:0};
  const a=treeSegs(node[1],xs,ys),b=treeSegs(node[2],xs,ys),h=node[0];
  xs.push(a.h,h,h,b.h,null);ys.push(a.y,a.y,b.y,b.y,null);return {y:(a.y+b.y)/2,h};}
function heat(idH,idD,box,dendL,maxH,genes,z,tree,zr,bar,fs){
  const n=genes.length;
  layout['xaxis'+idH]={domain:dx(box[0],box[1]),range:[-0.5,5.5],anchor:'y'+idH,visible:false,fixedrange:true};
  layout['yaxis'+idH]={domain:dy(box[2],box[3]),range:[n-0.5,-0.5],anchor:'x'+idH,side:'right',tickmode:'array',tickvals:range(n),ticktext:genes,ticks:'',
    showgrid:false,zeroline:false,showline:false,tickfont:{family:SANS,size:fs,color:'#111'},ticklabelstandoff:2};
  shapes.push({type:'rect',xref:'x'+idH+' domain',yref:'y'+idH+' domain',x0:0,x1:1,y0:0,y1:1,layer:'below',fillcolor:'#9a9a9a',line:{color:'#a8a8a8',width:1}});
  traces.push({type:'heatmap',z,x:range(6),y:range(n),xaxis:'x'+idH,yaxis:'y'+idH,zmin:zr[0],zmax:zr[1],colorscale:RDYLBU,xgap:1,ygap:1,
    colorbar:{x:bar[0]/W,xanchor:'left',y:1-bar[2]/H,yanchor:'top',len:bar[3]-bar[2],lenmode:'pixels',thickness:bar[1]-bar[0],thicknessmode:'pixels',xpad:0,ypad:0,outlinewidth:0,ticks:'',showticklabels:false}});
  layout['xaxis'+idD]={domain:dx(dendL,box[0]),range:[maxH,0],anchor:'y'+idD,visible:false,fixedrange:true};
  layout['yaxis'+idD]={domain:dy(box[2],box[3]),range:[n-0.5,-0.5],anchor:'x'+idD,visible:false,fixedrange:true};
  const xs=[],ys=[];treeSegs(tree,xs,ys);
  traces.push({type:'scatter',mode:'lines',x:xs,y:ys,xaxis:'x'+idD,yaxis:'y'+idD,line:{color:'#555',width:1.1},hoverinfo:'skip',showlegend:false,connectgaps:false});
}
heat('10','11',[1284.7,1747.4,612.5,1105],1227.5,57.2,genesE,zE,treeE,[-2.05,2.05],[1856.7,1867,588.6,751.8],18.5);
heat('12','13',[1284.7,1748.8,1172.7,1515.3],1227.5,57.2,genesG,zG,treeG,[-1.76,1.76],[1854,1865,1150.7,1316],18.5);
hline(1290.6,1516.5,601.4,'#111',2);hline(1518.3,1744.6,601.4,'#111',2);
txt(1405,586.8,groupsE[0],22);txt(1633,586.8,groupsE[1],22);
hline(1288.3,1512.8,1164,'#111',2);hline(1519.2,1745.6,1164,'#111',2);
txt(1407,1152,groupsG[0],22);txt(1633,1152,groupsG[1],22);
[591,630.7,670.4,710.7,750.4].forEach((y,i)=>txt(1892,y,String(barTicksE[i]).replace('-','−'),18,{xa:'right'}));
[1162.3,1187.3,1210.7,1234.3,1258.3,1281.7,1305.3].forEach((y,i)=>txt(1903,y,barTicksG[i],18,{xa:'right'}));

/* ---- panel letters ---- */
[['A',13,23],['B',1329.4,20.5],['C',13.6,569],['D',579,577],['E',1200,574],['F',585.7,972],['G',1201.4,1138]].forEach(l=>txt(l[1],l[2],l[0],31,{family:CAL,weight:700,color:'#000'}));

Object.assign(layout,{width:W,height:H,margin:{l:0,r:0,t:0,b:0},paper_bgcolor:'#fff',plot_bgcolor:'rgba(0,0,0,0)',showlegend:false,shapes,annotations:annos,hovermode:'closest'});
Plotly.newPlot('chart',traces,layout,{displayModeBar:false,staticPlot:true});
</script></body></html>
